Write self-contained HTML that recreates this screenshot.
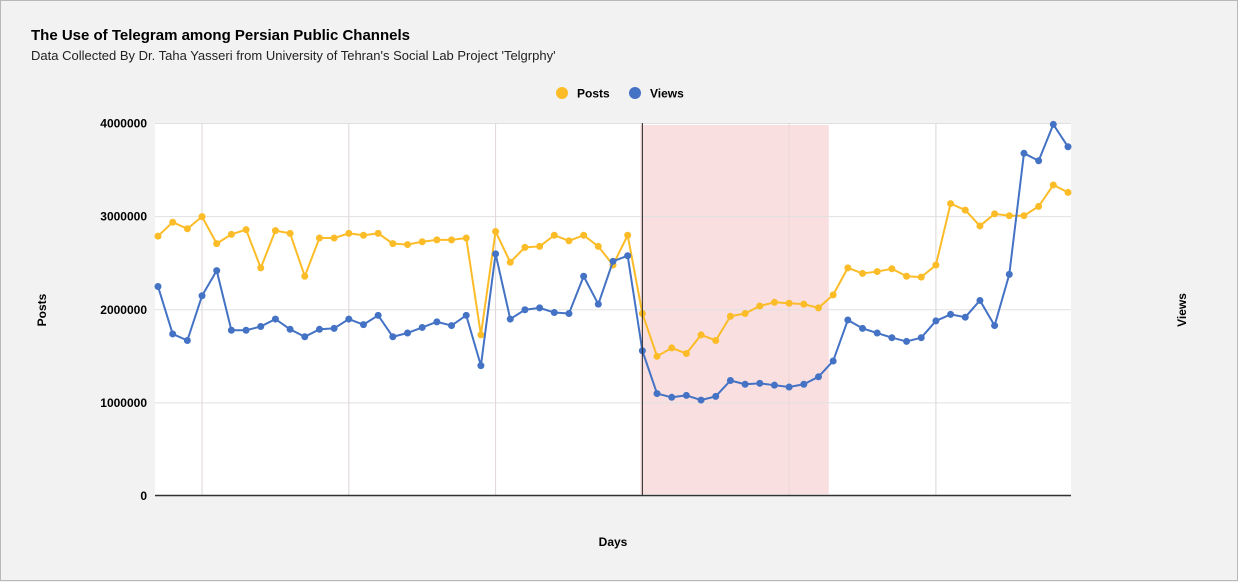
<!DOCTYPE html>
<html><head><meta charset="utf-8"><style>
html,body{margin:0;padding:0;background:#f2f2f2;}
body{width:1238px;height:582px;overflow:hidden;font-family:"Liberation Sans",Arial,sans-serif;}
</style></head><body>
<svg id="chart" width="1238" height="582" xmlns="http://www.w3.org/2000/svg" style="display:block">
<rect x="0.5" y="0.5" width="1237" height="580" fill="#f2f2f2" stroke="#b8b8b8"/>
<text x="31" y="40" font-size="15" font-weight="bold" fill="#000">The Use of Telegram among Persian Public Channels</text>
<text x="31" y="60" font-size="13" fill="#222">Data Collected By Dr. Taha Yasseri from University of Tehran's Social Lab Project 'Telgrphy'</text>
<g>
<g><circle cx="562" cy="93" r="6" fill="#fbbc28"/><text x="577" y="97.5" font-size="12" font-weight="bold">Posts</text></g>
<g><circle cx="635" cy="93" r="6" fill="#4472c4"/><text x="650" y="97.5" font-size="12" font-weight="bold">Views</text></g>
</g>
<rect x="155" y="123" width="916" height="373" fill="#fff"/>
<g id="grid"></g>
<rect id="shade" fill="#f9dfe0"/>
<g id="grid2"></g>
<g id="series"></g>
<g id="axes"></g>
<text transform="translate(46,310) rotate(-90)" text-anchor="middle" font-size="12" font-weight="bold">Posts</text>
<text transform="translate(1186,310) rotate(-90)" text-anchor="middle" font-size="12" font-weight="bold">Views</text>
<text x="613" y="546" text-anchor="middle" font-size="12" font-weight="bold">Days</text>
</svg>
<script>
const posts=[2.79,2.94,2.87,3.0,2.71,2.81,2.86,2.45,2.85,2.82,2.36,2.77,2.77,2.82,2.80,2.82,2.71,2.70,2.73,2.75,2.75,2.77,1.73,2.84,2.51,2.67,2.68,2.80,2.74,2.80,2.68,2.48,2.80,1.96,1.50,1.59,1.53,1.73,1.67,1.93,1.96,2.04,2.08,2.07,2.06,2.02,2.16,2.45,2.39,2.41,2.44,2.36,2.35,2.48,3.14,3.07,2.90,3.03,3.01,3.01,3.11,3.34,3.26].map(v=>v*1e6);
const views=[2.25,1.74,1.67,2.15,2.42,1.78,1.78,1.82,1.90,1.79,1.71,1.79,1.80,1.90,1.84,1.94,1.71,1.75,1.81,1.87,1.83,1.94,1.40,2.60,1.90,2.00,2.02,1.97,1.96,2.36,2.06,2.52,2.58,1.56,1.10,1.06,1.08,1.03,1.07,1.24,1.20,1.21,1.19,1.17,1.20,1.28,1.45,1.89,1.80,1.75,1.70,1.66,1.70,1.88,1.95,1.92,2.10,1.83,2.38,3.68,3.60,3.99,3.75].map(v=>v*1e6);
const yTicks=[0,1000000,2000000,3000000,4000000];
const xGridIdx=[3,13,23,33,43,53];
const markerIdx=33;
const shadeRange=[33,45.7];
const NS="http://www.w3.org/2000/svg";
const x=i=>158+i*(1068-158)/(posts.length-1);
const y=v=>496-v/4000000*372.5;
function mk(tag,attrs,parent){const e=document.createElementNS(NS,tag);for(const k in attrs)e.setAttribute(k,attrs[k]);parent.appendChild(e);return e;}
const grid=document.getElementById('grid'),grid2=document.getElementById('grid2'),axes=document.getElementById('axes'),series=document.getElementById('series');
yTicks.forEach(t=>{
 const l=mk('line',{x1:155,x2:1071,y1:y(t),y2:y(t),stroke:'#e0e0e0','stroke-width':1},grid2);
 
 
 const tx=mk('text',{x:147,y:y(t)+4,'text-anchor':'end','font-size':12,'font-weight':'bold'},axes);
 tx.textContent=String(t);
 
 
});
xGridIdx.forEach(i=>{
 const l=mk('line',{x1:x(i),x2:x(i),y1:123,y2:496,stroke:'#e0e0e0','stroke-width':1},grid);
 
 
 const l2=mk('line',{x1:x(i),x2:x(i),y1:123,y2:496,stroke:'#e0d0d0','stroke-width':1,opacity:0.5},grid2);
 
 
});
const sh=document.getElementById('shade');
sh.setAttribute('x',x(shadeRange[0])-2);sh.setAttribute('width',x(shadeRange[1])-x(shadeRange[0])+2);
sh.setAttribute('y',125);sh.setAttribute('height',369);
const ml=mk('line',{x1:x(markerIdx),x2:x(markerIdx),y1:123,y2:496,stroke:'#222','stroke-width':1},axes);


const base=mk('line',{x1:155,x2:1071,y1:495.5,y2:495.5,stroke:'#333','stroke-width':1.5},axes);


function drawSeries(data,color,name){
 const g=mk('g',{},series);
 
 
 const p=mk('polyline',{points:data.map((v,i)=>x(i)+','+y(v)).join(' '),fill:'none',stroke:color,'stroke-width':2,'stroke-linejoin':'round'},g);
 
 
 data.forEach((v,i)=>{
  const c=mk('circle',{cx:x(i),cy:y(v),r:3.5,fill:color},g);
  
  
 });
}
drawSeries(posts,'#fbbc28','posts');
drawSeries(views,'#4472c4','views');
</script>
</body></html>
